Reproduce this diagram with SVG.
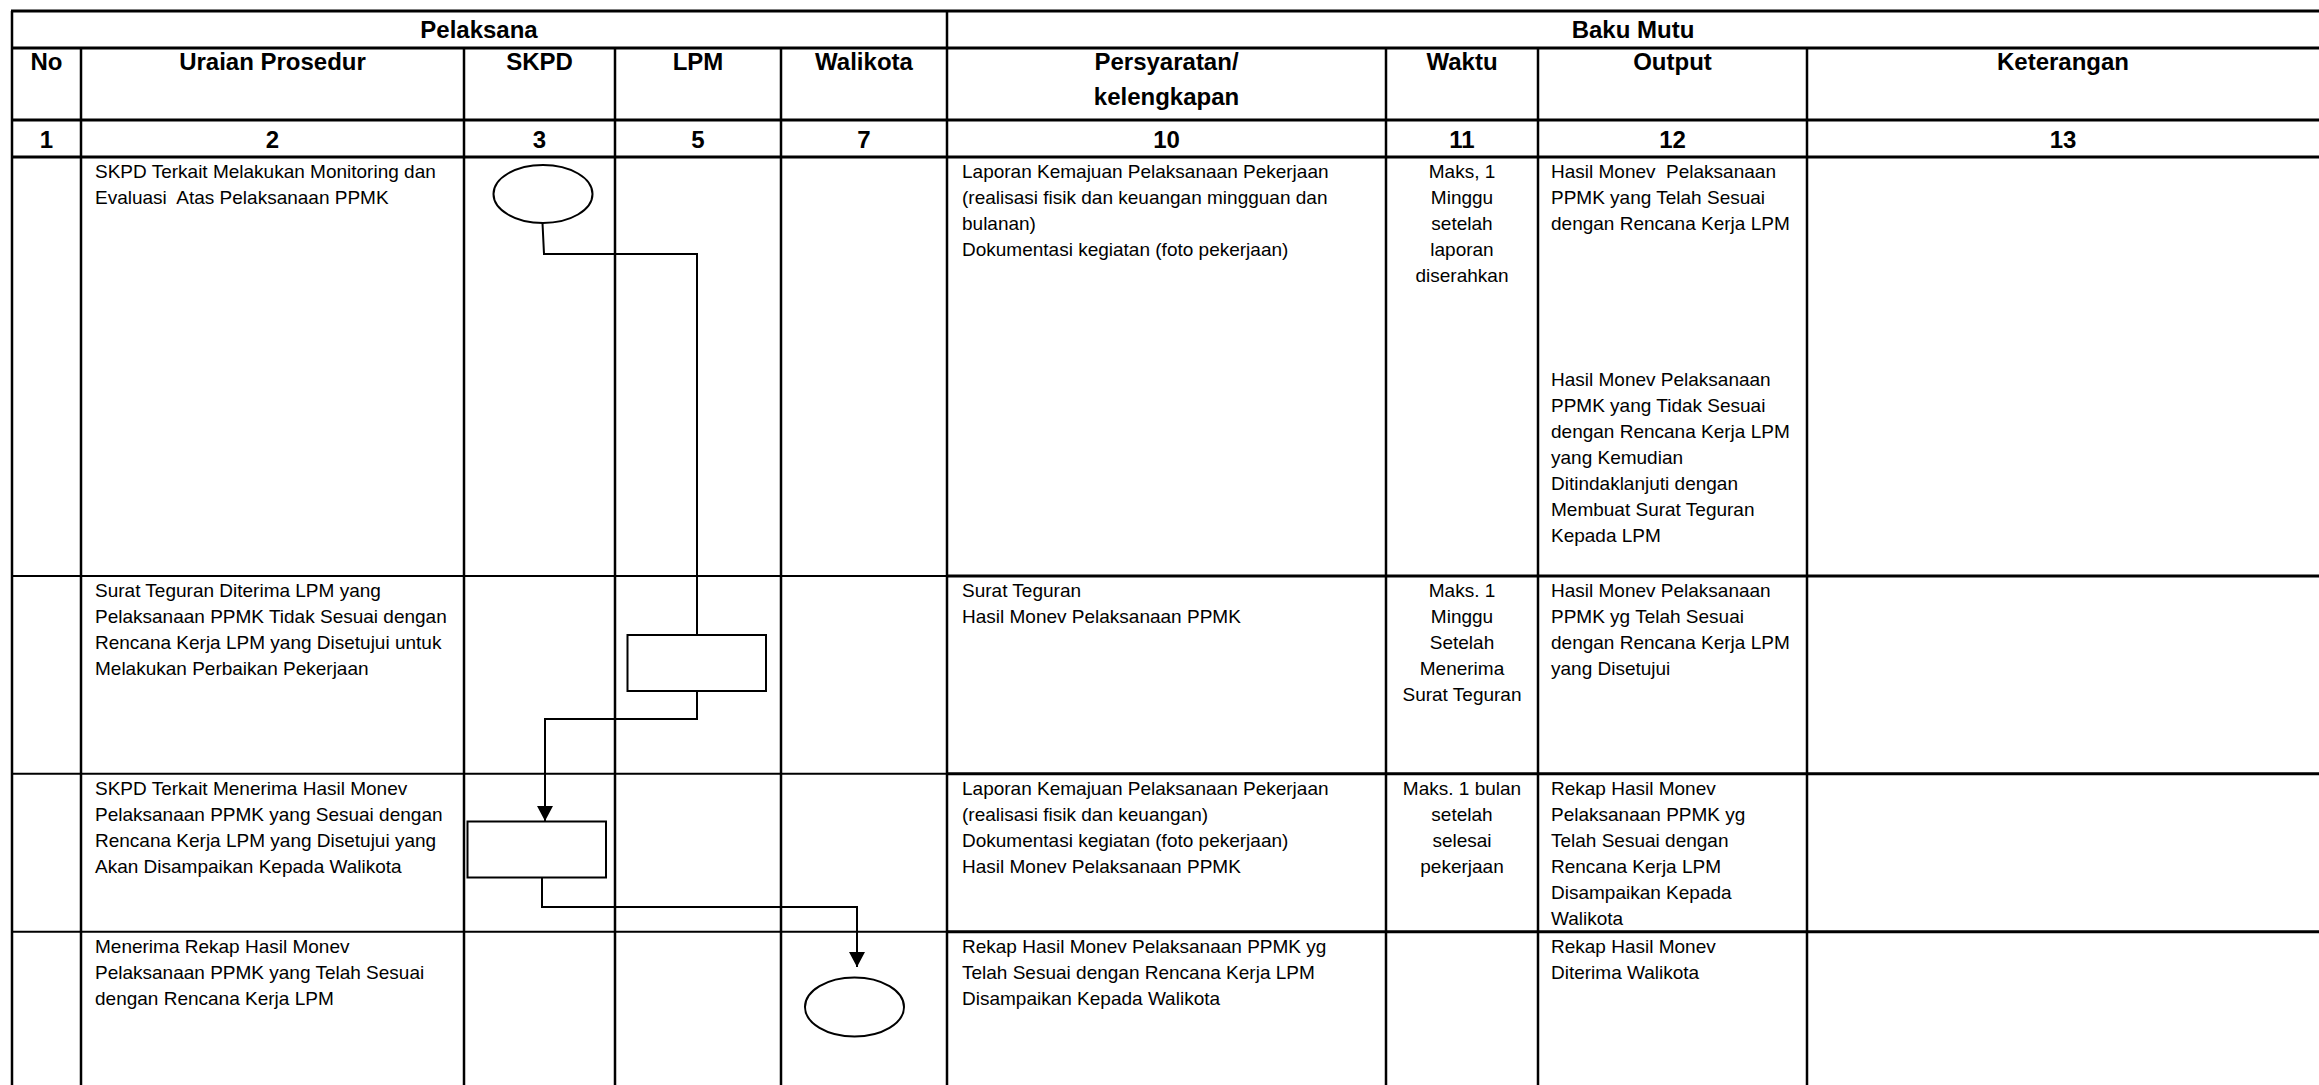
<svg xmlns="http://www.w3.org/2000/svg" width="2319" height="1085" viewBox="0 0 2319 1085">
<style>
.bg{fill:#ffffff}
.g3{stroke:#000;stroke-width:3;fill:none}
.g2{stroke:#000;stroke-width:2;fill:none}
.gv{stroke:#000;stroke-width:2.5;fill:none}
.h{font-family:"Liberation Sans",Arial,sans-serif;font-weight:bold;font-size:24px;fill:#000;text-anchor:middle}
.t{font-family:"Liberation Sans",Arial,sans-serif;font-size:19px;fill:#000}
.m{text-anchor:middle}
.shape{fill:#fff;stroke:#000;stroke-width:2}
.conn{fill:none;stroke:#000;stroke-width:2}
</style>
<defs>
<marker id="arrow" markerUnits="userSpaceOnUse" markerWidth="16" markerHeight="16" refX="15" refY="8" orient="auto">
<path d="M0,0 L15,8 L0,16 Z" fill="#000"/>
</marker>
</defs>
<rect class="bg" x="0" y="0" width="2319" height="1085"/>
<g id="table">
<path class="g3" d="M11,11H2319M11,48H2319M11,120H2319M11,157H2319"/>
<path class="g2" d="M11,576H947M11,773.7H947M11,931.7H947"/>
<path class="g3" d="M947,576H2319M947,773.7H2319M947,931.7H2319"/>
<path class="gv" d="M12,11V1085M947,11V1085M81,48V1085M464,48V1085M615,48V1085M781,48V1085M1386,48V1085M1538,48V1085M1807,48V1085"/>
</g>
<g id="headers">
<text class="h" x="479" y="38">Pelaksana</text>
<text class="h" x="1633" y="38">Baku Mutu</text>
<text class="h" x="46.5" y="70">No</text>
<text class="h" x="272.5" y="70">Uraian Prosedur</text>
<text class="h" x="539.5" y="70">SKPD</text>
<text class="h" x="698" y="70">LPM</text>
<text class="h" x="864" y="70">Walikota</text>
<text class="h" x="1166.5" y="70">Persyaratan/</text>
<text class="h" x="1166.5" y="105">kelengkapan</text>
<text class="h" x="1462" y="70">Waktu</text>
<text class="h" x="1672.5" y="70">Output</text>
<text class="h" x="2063" y="70">Keterangan</text>
<text class="h" x="46.5" y="148">1</text>
<text class="h" x="272.5" y="148">2</text>
<text class="h" x="539.5" y="148">3</text>
<text class="h" x="698" y="148">5</text>
<text class="h" x="864" y="148">7</text>
<text class="h" x="1166.5" y="148">10</text>
<text class="h" x="1462" y="148">11</text>
<text class="h" x="1672.5" y="148">12</text>
<text class="h" x="2063" y="148">13</text>
</g>
<g id="row1">
<text class="t" x="95" y="178" xml:space="preserve"><tspan x="95" y="178">SKPD Terkait Melakukan Monitoring dan</tspan><tspan x="95" y="204">Evaluasi  Atas Pelaksanaan PPMK</tspan></text>
<text class="t" x="962" y="178"><tspan x="962" y="178">Laporan Kemajuan Pelaksanaan Pekerjaan</tspan><tspan x="962" y="204">(realisasi fisik dan keuangan mingguan dan</tspan><tspan x="962" y="230">bulanan)</tspan><tspan x="962" y="256">Dokumentasi kegiatan (foto pekerjaan)</tspan></text>
<text class="t m" x="1462" y="178"><tspan x="1462" y="178">Maks, 1</tspan><tspan x="1462" y="204">Minggu</tspan><tspan x="1462" y="230">setelah</tspan><tspan x="1462" y="256">laporan</tspan><tspan x="1462" y="282">diserahkan</tspan></text>
<text class="t" x="1551" y="178" xml:space="preserve"><tspan x="1551" y="178">Hasil Monev  Pelaksanaan</tspan><tspan x="1551" y="204">PPMK yang Telah Sesuai</tspan><tspan x="1551" y="230">dengan Rencana Kerja LPM</tspan></text>
<text class="t" x="1551" y="386"><tspan x="1551" y="386">Hasil Monev Pelaksanaan</tspan><tspan x="1551" y="412">PPMK yang Tidak Sesuai</tspan><tspan x="1551" y="438">dengan Rencana Kerja LPM</tspan><tspan x="1551" y="464">yang Kemudian</tspan><tspan x="1551" y="490">Ditindaklanjuti dengan</tspan><tspan x="1551" y="516">Membuat Surat Teguran</tspan><tspan x="1551" y="542">Kepada LPM</tspan></text>
</g>
<g id="row2">
<text class="t" x="95" y="597"><tspan x="95" y="597">Surat Teguran Diterima LPM yang</tspan><tspan x="95" y="623">Pelaksanaan PPMK Tidak Sesuai dengan</tspan><tspan x="95" y="649">Rencana Kerja LPM yang Disetujui untuk</tspan><tspan x="95" y="675">Melakukan Perbaikan Pekerjaan</tspan></text>
<text class="t" x="962" y="597"><tspan x="962" y="597">Surat Teguran</tspan><tspan x="962" y="623">Hasil Monev Pelaksanaan PPMK</tspan></text>
<text class="t m" x="1462" y="597"><tspan x="1462" y="597">Maks. 1</tspan><tspan x="1462" y="623">Minggu</tspan><tspan x="1462" y="649">Setelah</tspan><tspan x="1462" y="675">Menerima</tspan><tspan x="1462" y="701">Surat Teguran</tspan></text>
<text class="t" x="1551" y="597"><tspan x="1551" y="597">Hasil Monev Pelaksanaan</tspan><tspan x="1551" y="623">PPMK yg Telah Sesuai</tspan><tspan x="1551" y="649">dengan Rencana Kerja LPM</tspan><tspan x="1551" y="675">yang Disetujui</tspan></text>
</g>
<g id="row3">
<text class="t" x="95" y="795"><tspan x="95" y="795">SKPD Terkait Menerima Hasil Monev</tspan><tspan x="95" y="821">Pelaksanaan PPMK yang Sesuai dengan</tspan><tspan x="95" y="847">Rencana Kerja LPM yang Disetujui yang</tspan><tspan x="95" y="873">Akan Disampaikan Kepada Walikota</tspan></text>
<text class="t" x="962" y="795"><tspan x="962" y="795">Laporan Kemajuan Pelaksanaan Pekerjaan</tspan><tspan x="962" y="821">(realisasi fisik dan keuangan)</tspan><tspan x="962" y="847">Dokumentasi kegiatan (foto pekerjaan)</tspan><tspan x="962" y="873">Hasil Monev Pelaksanaan PPMK</tspan></text>
<text class="t m" x="1462" y="795"><tspan x="1462" y="795">Maks. 1 bulan</tspan><tspan x="1462" y="821">setelah</tspan><tspan x="1462" y="847">selesai</tspan><tspan x="1462" y="873">pekerjaan</tspan></text>
<text class="t" x="1551" y="795"><tspan x="1551" y="795">Rekap Hasil Monev</tspan><tspan x="1551" y="821">Pelaksanaan PPMK yg</tspan><tspan x="1551" y="847">Telah Sesuai dengan</tspan><tspan x="1551" y="873">Rencana Kerja LPM</tspan><tspan x="1551" y="899">Disampaikan Kepada</tspan><tspan x="1551" y="925">Walikota</tspan></text>
</g>
<g id="row4">
<text class="t" x="95" y="953"><tspan x="95" y="953">Menerima Rekap Hasil Monev</tspan><tspan x="95" y="979">Pelaksanaan PPMK yang Telah Sesuai</tspan><tspan x="95" y="1005">dengan Rencana Kerja LPM</tspan></text>
<text class="t" x="962" y="953"><tspan x="962" y="953">Rekap Hasil Monev Pelaksanaan PPMK yg</tspan><tspan x="962" y="979">Telah Sesuai dengan Rencana Kerja LPM</tspan><tspan x="962" y="1005">Disampaikan Kepada Walikota</tspan></text>
<text class="t" x="1551" y="953"><tspan x="1551" y="953">Rekap Hasil Monev</tspan><tspan x="1551" y="979">Diterima Walikota</tspan></text>
</g>
<g id="connectors">
<path class="conn" d="M542.5,223 L544,254 H697 V635"/>
<path class="conn" d="M697,691 V719 H545 V821" marker-end="url(#arrow)"/>
<path class="conn" d="M542,878 V907 H857 V967" marker-end="url(#arrow)"/>
</g>
<g id="node-start-skpd">
<ellipse class="shape" cx="543" cy="194" rx="49.5" ry="29"/>
</g>
<g id="node-lpm-perbaikan">
<rect class="shape" x="627.5" y="635" width="138.5" height="56"/>
</g>
<g id="node-skpd-terima">
<rect class="shape" x="467.5" y="821.5" width="138.5" height="56"/>
</g>
<g id="node-end-walikota">
<ellipse class="shape" cx="854.5" cy="1007" rx="49.5" ry="29.5"/>
</g>
</svg>
